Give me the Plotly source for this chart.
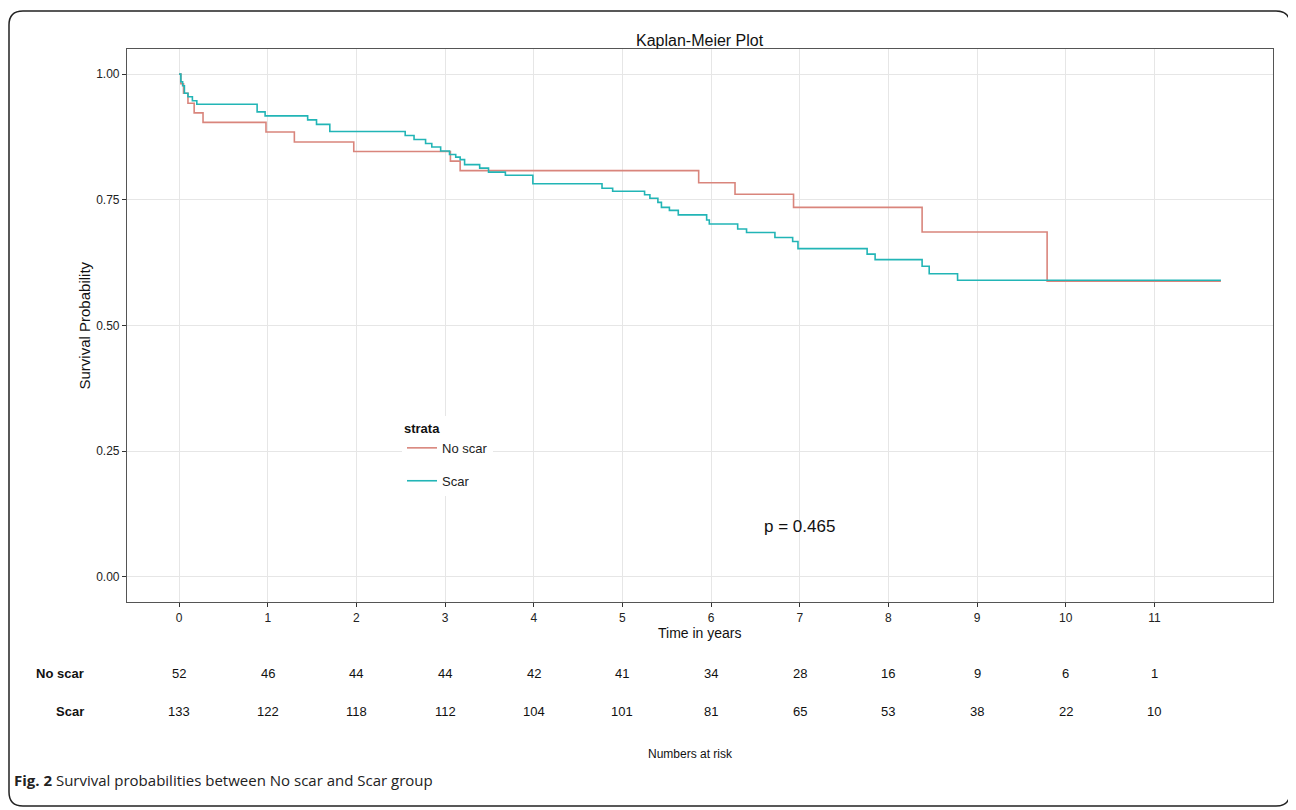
import plotly.graph_objects as go

# ---------------- data ----------------
no_scar_time = [0, 0.02, 0.05, 0.10, 0.17, 0.27, 0.98, 1.30, 1.97, 3.06, 3.17,
                5.86, 6.27, 6.93, 8.38, 9.79, 11.75]
no_scar_surv = [1.0, 0.981, 0.962, 0.942, 0.923, 0.904, 0.885, 0.865, 0.846, 0.827, 0.808,
                0.784, 0.761, 0.735, 0.686, 0.588, 0.588]

scar_time = [0, 0.02, 0.04, 0.06, 0.10, 0.15, 0.20, 0.88, 0.97, 1.45, 1.55, 1.70,
             2.55, 2.65, 2.78, 2.85, 2.95, 3.05, 3.12, 3.17, 3.22, 3.39, 3.49, 3.68,
             3.99, 4.77, 4.89, 5.25, 5.31, 5.40, 5.44, 5.53, 5.63, 5.95, 5.98, 6.30,
             6.40, 6.72, 6.92, 6.98, 7.76, 7.85, 8.38, 8.46, 8.78, 11.75]
scar_surv = [1.0, 0.985, 0.977, 0.962, 0.955, 0.947, 0.940, 0.925, 0.917, 0.909, 0.900, 0.886,
             0.878, 0.870, 0.862, 0.855, 0.847, 0.840, 0.835, 0.830, 0.820, 0.813, 0.805, 0.799,
             0.782, 0.773, 0.767, 0.760, 0.753, 0.745, 0.735, 0.729, 0.720, 0.710, 0.702, 0.692,
             0.685, 0.675, 0.667, 0.653, 0.642, 0.631, 0.618, 0.603, 0.590, 0.590]

risk_times = list(range(12))
risk_no_scar = [52, 46, 44, 44, 42, 41, 34, 28, 16, 9, 6, 1]
risk_scar = [133, 122, 118, 112, 104, 101, 81, 65, 53, 38, 22, 10]

y_tick_vals = [0, 0.25, 0.5, 0.75, 1.0]
y_tick_text = ["0.00", "0.25", "0.50", "0.75", "1.00"]
group_names = ["No scar", "Scar"]
p_value_text = "p = 0.465"
p_value_pos = (7.0, 0.10)

# ---------------- layout geometry (screen pixels) ----------------
OFF = 8                      # page body margin added by the browser
W, H = 1296 - OFF, 810 - OFF
L, R, T, B = 127, 1273, 49, 602
PW, PH = R - L, B - T


def px2x(px):
    return (px - L) / PW


def py2y(py):
    return (B - py) / PH


RED = "#D9857C"
TEAL = "#22B5B6"
FONT = "Liberation Sans, Arial, sans-serif"

fig = go.Figure()
fig.add_trace(go.Scatter(x=no_scar_time, y=no_scar_surv, mode="lines", name=group_names[0],
                         line=dict(color=RED, width=1.6, shape="hv"), legendgroup="a"))
fig.add_trace(go.Scatter(x=scar_time, y=scar_surv, mode="lines", name=group_names[1],
                         line=dict(color=TEAL, width=1.6, shape="hv"), legendgroup="b"))

ann = []
ann.append(dict(text="Kaplan-Meier Plot", x=px2x(700), y=py2y(30), xref="paper", yref="paper",
                showarrow=False, font=dict(size=16, color="#111", family=FONT)))
ann.append(dict(text="Survival Probability", x=px2x(73), y=py2y(326), xref="paper", yref="paper",
                showarrow=False, textangle=-90, font=dict(size=15, color="#111", family=FONT)))
ann.append(dict(text="Time in years", x=px2x(700), y=py2y(643), xref="paper", yref="paper",
                showarrow=False, font=dict(size=14, color="#111", family=FONT)))
ann.append(dict(text=p_value_text, x=p_value_pos[0], y=p_value_pos[1], xref="x", yref="y",
                showarrow=False, font=dict(size=17, color="#111", family=FONT)))
for name, vals, py in [(group_names[0], risk_no_scar, 683), (group_names[1], risk_scar, 721)]:
    ann.append(dict(text="<b>%s</b>" % name, x=px2x(86), y=py2y(py), xref="paper", yref="paper",
                    xanchor="right", showarrow=False, font=dict(size=13, color="#111", family=FONT)))
    for t, v in zip(risk_times, vals):
        ann.append(dict(text=str(v), x=t, y=py2y(py), xref="x", yref="paper",
                        showarrow=False, font=dict(size=13, color="#111", family=FONT)))
ann.append(dict(text="Numbers at risk", x=px2x(690), y=py2y(763), xref="paper", yref="paper",
                showarrow=False, font=dict(size=12, color="#111", family=FONT)))
ann.append(dict(text="<b>Fig. 2</b> Survival probabilities between No scar and Scar group",
                x=px2x(12), y=py2y(792), xref="paper", yref="paper", xanchor="left",
                showarrow=False, font=dict(size=15, color="#222", family="Open Sans, sans-serif")))

# outer rounded frame (screen pixel corners)
x0, x1, y0, y1, r = 9, 1290, 11, 806, 14


def P(px, py):
    return "%f,%f" % (px2x(px), py2y(py))


path = ("M " + P(x0 + r, y0) + " L " + P(x1 - r, y0) + " Q " + P(x1, y0) + " " + P(x1, y0 + r) +
        " L " + P(x1, y1 - r) + " Q " + P(x1, y1) + " " + P(x1 - r, y1) +
        " L " + P(x0 + r, y1) + " Q " + P(x0, y1) + " " + P(x0, y1 - r) +
        " L " + P(x0, y0 + r) + " Q " + P(x0, y0) + " " + P(x0 + r, y0) + " Z")
shapes = [dict(type="path", path=path, xref="paper", yref="paper",
               line=dict(color="#222", width=1.5), layer="below")]

fig.update_layout(
    width=W, height=H,
    margin=dict(l=L - OFF, r=(W + OFF) - R, t=T - OFF, b=(H + OFF) - B, autoexpand=False),
    paper_bgcolor="white", plot_bgcolor="white",
    font=dict(family=FONT, color="#222"),
    annotations=ann, shapes=shapes,
    showlegend=True,
    legend=dict(x=px2x(402), y=py2y(416), xanchor="left", yanchor="top",
                bgcolor="white", borderwidth=0,
                title=dict(text="<b>strata</b>", font=dict(size=13, color="#111", family=FONT)),
                font=dict(size=13, color="#222", family=FONT),
                tracegroupgap=13, itemwidth=30),
)
fig.update_xaxes(range=[-0.5875, 12.3375], tickmode="array", tickvals=risk_times,
                 ticktext=[str(t) for t in risk_times],
                 showgrid=True, gridcolor="#E6E6E6", gridwidth=1, zeroline=False,
                 showline=True, linecolor="#555", linewidth=1.2, mirror=True,
                 ticks="outside", ticklen=4, tickcolor="#333",
                 tickfont=dict(size=12, color="#222", family=FONT))
fig.update_yaxes(range=[-0.05, 1.05], tickmode="array", tickvals=y_tick_vals, ticktext=y_tick_text,
                 showgrid=True, gridcolor="#E6E6E6", gridwidth=1, zeroline=False,
                 showline=True, linecolor="#555", linewidth=1.2, mirror=True,
                 ticks="outside", ticklen=4, tickcolor="#333",
                 tickfont=dict(size=12, color="#222", family=FONT))

fig.write_html("out.html")
